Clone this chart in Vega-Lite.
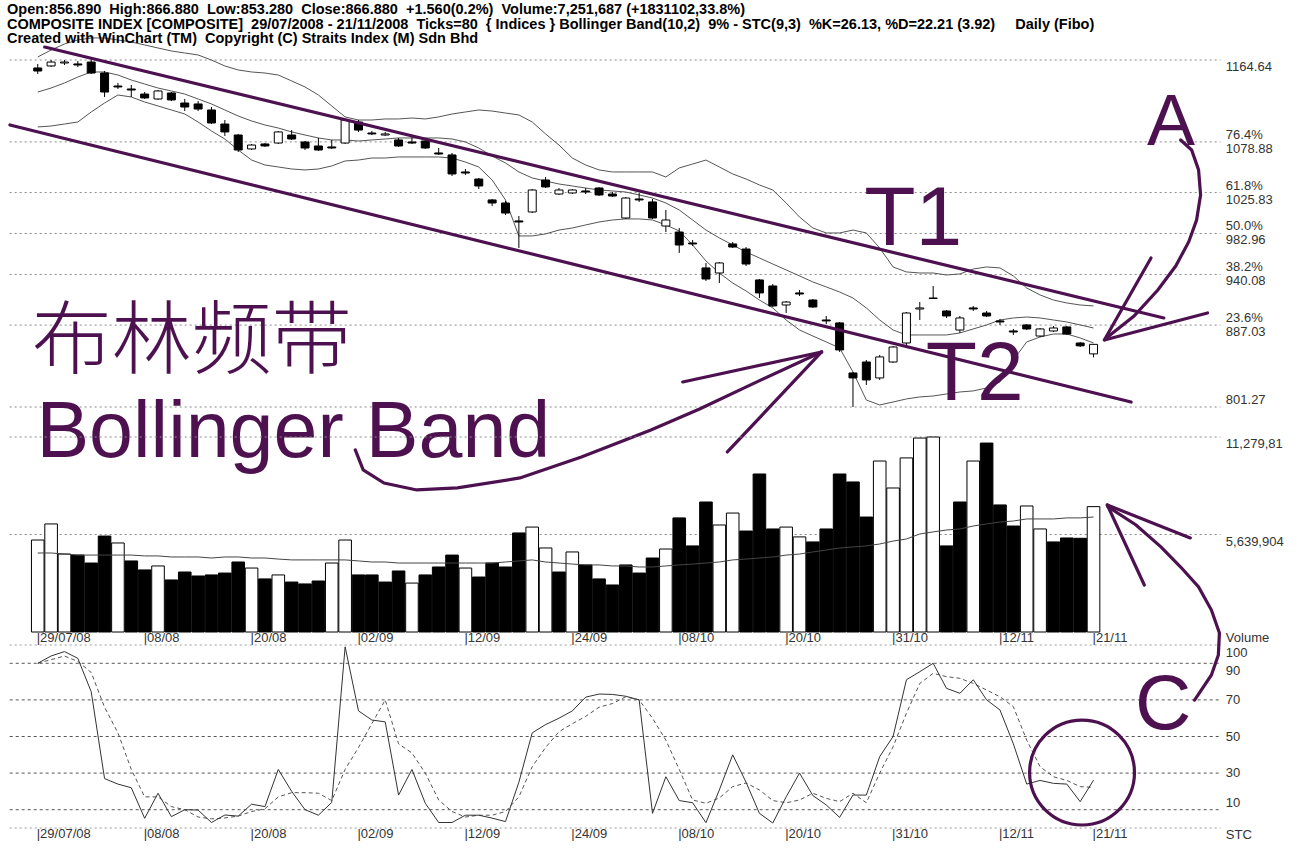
{
"$schema": "https://vega.github.io/schema/vega-lite/v6.json",
"width": 1299, "height": 856, "padding": 0,
"autosize": {"type": "fit", "contains": "padding"},
"background": "white",
"config": {"view": {"stroke": null}},
"datasets": {
"bars": [
{"i":0,"open":1156.3,"high":1160.5,"low":1150.0,"close":1153.1,"vol":5320000,"vup":1,"vma":4570000,"bbu":1167.8,"bbm":1131.1,"bbl":1094.5,"k":90,"d":90},
{"i":1,"open":1158.4,"high":1164.6,"low":1157.3,"close":1162.5,"vol":6250000,"vup":1,"vma":4570000,"bbu":1175.1,"bbm":1135.3,"bbl":1095.5,"k":94,"d":92},
{"i":2,"open":1161.5,"high":1164.6,"low":1159.4,"close":1162.5,"vol":4510000,"vup":1,"vma":4510000,"bbu":1181.4,"bbm":1140.6,"bbl":1097.6,"k":96.4,"d":94},
{"i":3,"open":1160.5,"high":1163.6,"low":1157.3,"close":1159.4,"vol":4450000,"vup":0,"vma":4450000,"bbu":1185.6,"bbm":1146.8,"bbl":1099.7,"k":92.7,"d":91},
{"i":4,"open":1162.5,"high":1164.6,"low":1150.0,"close":1151.0,"vol":3990000,"vup":0,"vma":4450000,"bbu":1187.7,"bbm":1152.1,"bbl":1110.2,"k":74.5,"d":85},
{"i":5,"open":1151.0,"high":1153.1,"low":1125.9,"close":1131.1,"vol":5550000,"vup":0,"vma":4450000,"bbu":1187.7,"bbm":1152.1,"bbl":1119.6,"k":27,"d":66},
{"i":6,"open":1137.4,"high":1140.6,"low":1134.3,"close":1136.4,"vol":5150000,"vup":1,"vma":4450000,"bbu":1185.6,"bbm":1148.9,"bbl":1128.0,"k":24,"d":52},
{"i":7,"open":1134.3,"high":1138.5,"low":1125.9,"close":1133.2,"vol":4110000,"vup":0,"vma":4450000,"bbu":1183.5,"bbm":1143.7,"bbl":1125.9,"k":22,"d":32},
{"i":8,"open":1129.0,"high":1131.1,"low":1123.8,"close":1124.9,"vol":3590000,"vup":0,"vma":4400000,"bbu":1180.4,"bbm":1139.5,"bbl":1120.7,"k":5.3,"d":17},
{"i":9,"open":1123.8,"high":1133.2,"low":1122.8,"close":1132.2,"vol":3820000,"vup":1,"vma":4400000,"bbu":1177.2,"bbm":1135.3,"bbl":1116.5,"k":19,"d":17},
{"i":10,"open":1130.1,"high":1131.1,"low":1121.7,"close":1122.8,"vol":3010000,"vup":0,"vma":4340000,"bbu":1174.1,"bbm":1132.2,"bbl":1112.3,"k":6.2,"d":11.7},
{"i":11,"open":1119.6,"high":1123.8,"low":1111.2,"close":1115.4,"vol":3470000,"vup":0,"vma":4340000,"bbu":1172.0,"bbm":1129.0,"bbl":1108.1,"k":10,"d":10},
{"i":12,"open":1118.6,"high":1121.7,"low":1111.2,"close":1113.3,"vol":3240000,"vup":0,"vma":4340000,"bbu":1169.9,"bbm":1123.8,"bbl":1099.7,"k":9.8,"d":6},
{"i":13,"open":1112.3,"high":1115.4,"low":1097.6,"close":1098.7,"vol":3300000,"vup":0,"vma":4280000,"bbu":1164.6,"bbm":1118.6,"bbl":1090.3,"k":3,"d":5},
{"i":14,"open":1097.6,"high":1101.8,"low":1085.1,"close":1089.3,"vol":3410000,"vup":0,"vma":4340000,"bbu":1158.4,"bbm":1112.3,"bbl":1081.9,"k":7.1,"d":5.5},
{"i":15,"open":1086.1,"high":1087.2,"low":1068.3,"close":1070.4,"vol":4050000,"vup":0,"vma":4340000,"bbu":1154.2,"bbm":1106.0,"bbl":1070.4,"k":6.5,"d":6.5},
{"i":16,"open":1071.5,"high":1076.7,"low":1070.4,"close":1075.6,"vol":3700000,"vup":1,"vma":4280000,"bbu":1152.1,"bbm":1100.8,"bbl":1059.9,"k":13,"d":9},
{"i":17,"open":1076.7,"high":1077.7,"low":1073.6,"close":1074.6,"vol":3070000,"vup":0,"vma":4280000,"bbu":1151.0,"bbm":1096.6,"bbl":1054.7,"k":11.7,"d":10.5},
{"i":18,"open":1077.7,"high":1090.3,"low":1076.7,"close":1089.3,"vol":3300000,"vup":1,"vma":4220000,"bbu":1148.9,"bbm":1093.4,"bbl":1052.6,"k":32,"d":17},
{"i":19,"open":1086.1,"high":1091.3,"low":1080.9,"close":1081.9,"vol":2890000,"vup":0,"vma":4170000,"bbu":1142.7,"bbm":1089.3,"bbl":1050.5,"k":20,"d":19.3},
{"i":20,"open":1078.8,"high":1079.8,"low":1070.4,"close":1072.5,"vol":2780000,"vup":0,"vma":4170000,"bbu":1136.4,"bbm":1086.1,"bbl":1049.5,"k":10,"d":19.3},
{"i":21,"open":1074.6,"high":1083.0,"low":1069.4,"close":1070.4,"vol":2950000,"vup":0,"vma":4170000,"bbu":1128.0,"bbm":1083.0,"bbl":1050.5,"k":7,"d":19},
{"i":22,"open":1073.6,"high":1080.9,"low":1071.5,"close":1072.5,"vol":3990000,"vup":1,"vma":4170000,"bbu":1116.5,"bbm":1080.9,"bbl":1053.7,"k":14,"d":15},
{"i":23,"open":1077.7,"high":1102.9,"low":1076.7,"close":1101.8,"vol":5320000,"vup":1,"vma":4170000,"bbu":1105.0,"bbm":1080.9,"bbl":1058.9,"k":99,"d":32},
{"i":24,"open":1099.7,"high":1101.8,"low":1089.3,"close":1091.3,"vol":3300000,"vup":0,"vma":4110000,"bbu":1101.8,"bbm":1079.8,"bbl":1059.9,"k":64,"d":44},
{"i":25,"open":1088.2,"high":1090.3,"low":1086.1,"close":1087.2,"vol":3300000,"vup":0,"vma":4050000,"bbu":1101.8,"bbm":1080.9,"bbl":1062.0,"k":59,"d":57},
{"i":26,"open":1086.1,"high":1089.3,"low":1085.1,"close":1087.2,"vol":2890000,"vup":0,"vma":4050000,"bbu":1102.9,"bbm":1081.9,"bbl":1062.0,"k":58,"d":70},
{"i":27,"open":1080.9,"high":1083.0,"low":1073.6,"close":1074.6,"vol":3530000,"vup":0,"vma":3990000,"bbu":1102.9,"bbm":1083.0,"bbl":1063.1,"k":18,"d":46},
{"i":28,"open":1078.8,"high":1084.0,"low":1076.7,"close":1077.7,"vol":2830000,"vup":1,"vma":3990000,"bbu":1103.9,"bbm":1083.0,"bbl":1063.1,"k":32,"d":41},
{"i":29,"open":1079.8,"high":1081.9,"low":1071.5,"close":1072.5,"vol":3300000,"vup":0,"vma":3990000,"bbu":1102.9,"bbm":1083.0,"bbl":1063.1,"k":13.5,"d":30},
{"i":30,"open":1067.3,"high":1072.5,"low":1065.2,"close":1066.2,"vol":3760000,"vup":0,"vma":3990000,"bbu":1105.0,"bbm":1083.0,"bbl":1063.1,"k":3,"d":15.3},
{"i":31,"open":1065.2,"high":1067.3,"low":1043.2,"close":1045.3,"vol":4450000,"vup":0,"vma":3990000,"bbu":1108.1,"bbm":1081.9,"bbl":1062.0,"k":3,"d":9},
{"i":32,"open":1047.4,"high":1050.5,"low":1044.2,"close":1046.3,"vol":3700000,"vup":1,"vma":3990000,"bbu":1110.2,"bbm":1078.8,"bbl":1057.8,"k":7,"d":6},
{"i":33,"open":1040.0,"high":1041.1,"low":1029.6,"close":1032.7,"vol":3180000,"vup":0,"vma":3990000,"bbu":1112.3,"bbm":1072.5,"bbl":1052.6,"k":7,"d":7},
{"i":34,"open":1018.1,"high":1019.1,"low":1011.8,"close":1014.9,"vol":3990000,"vup":0,"vma":3990000,"bbu":1111.2,"bbm":1064.1,"bbl":1039.0,"k":5.4,"d":7},
{"i":35,"open":1014.9,"high":1017.0,"low":1002.3,"close":1004.4,"vol":3760000,"vup":0,"vma":4050000,"bbu":1109.1,"bbm":1056.8,"bbl":1018.1,"k":3.5,"d":9},
{"i":36,"open":996.1,"high":1001.3,"low":967.8,"close":995.0,"vol":5730000,"vup":0,"vma":4110000,"bbu":1107.1,"bbm":1047.4,"bbl":980.4,"k":25,"d":17},
{"i":37,"open":1005.5,"high":1029.6,"low":1004.4,"close":1028.5,"vol":6070000,"vup":1,"vma":4170000,"bbu":1099.7,"bbm":1041.1,"bbl":980.4,"k":52,"d":33.5},
{"i":38,"open":1039.0,"high":1042.1,"low":1030.6,"close":1031.7,"vol":4860000,"vup":1,"vma":4050000,"bbu":1087.2,"bbm":1037.9,"bbl":982.5,"k":56.5,"d":44},
{"i":39,"open":1024.3,"high":1030.6,"low":1023.3,"close":1028.5,"vol":3470000,"vup":0,"vma":3990000,"bbu":1075.6,"bbm":1034.8,"bbl":986.6,"k":60,"d":52.6},
{"i":40,"open":1025.4,"high":1029.6,"low":1024.3,"close":1028.5,"vol":4630000,"vup":1,"vma":3930000,"bbu":1062.0,"bbm":1032.7,"bbl":988.7,"k":64,"d":57},
{"i":41,"open":1027.5,"high":1030.6,"low":1024.3,"close":1026.4,"vol":3880000,"vup":0,"vma":3880000,"bbu":1054.7,"bbm":1030.6,"bbl":991.9,"k":71.5,"d":61},
{"i":42,"open":1030.6,"high":1031.7,"low":1022.2,"close":1023.3,"vol":3070000,"vup":0,"vma":3880000,"bbu":1049.5,"bbm":1028.5,"bbl":995.0,"k":73.2,"d":66},
{"i":43,"open":1024.3,"high":1026.4,"low":1021.2,"close":1022.2,"vol":2720000,"vup":0,"vma":3820000,"bbu":1047.4,"bbm":1027.5,"bbl":997.1,"k":73,"d":68},
{"i":44,"open":999.2,"high":1021.2,"low":998.2,"close":1020.1,"vol":3880000,"vup":0,"vma":3820000,"bbu":1047.4,"bbm":1026.4,"bbl":998.2,"k":72,"d":71.7},
{"i":45,"open":1019.1,"high":1025.4,"low":1016.0,"close":1018.1,"vol":3410000,"vup":0,"vma":3760000,"bbu":1047.4,"bbm":1023.3,"bbl":998.2,"k":70,"d":70},
{"i":46,"open":1016.0,"high":1019.1,"low":998.2,"close":999.2,"vol":4280000,"vup":0,"vma":3760000,"bbu":1047.4,"bbm":1020.1,"bbl":997.1,"k":8,"d":60},
{"i":47,"open":990.8,"high":1007.6,"low":984.5,"close":997.1,"vol":4800000,"vup":1,"vma":3820000,"bbu":1042.1,"bbm":1014.9,"bbl":991.9,"k":28,"d":48},
{"i":48,"open":984.5,"high":988.7,"low":962.6,"close":970.9,"vol":6600000,"vup":0,"vma":3880000,"bbu":1051.6,"bbm":1007.6,"bbl":985.6,"k":15,"d":32},
{"i":49,"open":973.0,"high":976.2,"low":969.9,"close":972.0,"vol":4980000,"vup":0,"vma":3930000,"bbu":1055.7,"bbm":997.1,"bbl":970.9,"k":13.8,"d":15.3},
{"i":50,"open":946.9,"high":952.1,"low":933.2,"close":935.3,"vol":7520000,"vup":0,"vma":3990000,"bbu":1059.9,"bbm":986.6,"bbl":954.2,"k":2.9,"d":13.5},
{"i":51,"open":941.6,"high":953.1,"low":931.1,"close":952.1,"vol":6190000,"vup":1,"vma":4050000,"bbu":1052.6,"bbm":978.3,"bbl":941.6,"k":20.8,"d":16.4},
{"i":52,"open":972.0,"high":974.1,"low":967.8,"close":968.8,"vol":6880000,"vup":1,"vma":4170000,"bbu":1045.3,"bbm":970.9,"bbl":931.1,"k":40,"d":22.6},
{"i":53,"open":966.7,"high":968.8,"low":948.9,"close":951.0,"vol":5840000,"vup":0,"vma":4220000,"bbu":1040.0,"bbm":963.6,"bbl":922.8,"k":25,"d":24.6},
{"i":54,"open":934.3,"high":935.3,"low":915.4,"close":920.7,"vol":9140000,"vup":0,"vma":4280000,"bbu":1033.8,"bbm":957.3,"bbl":913.3,"k":8,"d":20.8},
{"i":55,"open":928.0,"high":930.1,"low":906.0,"close":907.1,"vol":5960000,"vup":0,"vma":4340000,"bbu":1028.5,"bbm":951.0,"bbl":905.0,"k":2.7,"d":15},
{"i":56,"open":908.1,"high":912.3,"low":899.7,"close":911.2,"vol":6070000,"vup":1,"vma":4450000,"bbu":1014.9,"bbm":944.8,"bbl":892.4,"k":17,"d":13.8},
{"i":57,"open":920.7,"high":923.8,"low":917.5,"close":919.6,"vol":5500000,"vup":1,"vma":4510000,"bbu":1000.2,"bbm":938.5,"bbl":881.9,"k":30,"d":15.3},
{"i":58,"open":913.3,"high":914.4,"low":905.0,"close":906.0,"vol":5210000,"vup":0,"vma":4630000,"bbu":988.7,"bbm":932.2,"bbl":875.6,"k":17.7,"d":19},
{"i":59,"open":892.4,"high":896.6,"low":888.2,"close":891.4,"vol":5960000,"vup":0,"vma":4740000,"bbu":983.5,"bbm":927.0,"bbl":869.4,"k":12.6,"d":16.2},
{"i":60,"open":889.3,"high":890.3,"low":858.9,"close":861.0,"vol":9140000,"vup":0,"vma":4860000,"bbu":983.5,"bbm":921.7,"bbl":863.1,"k":5.8,"d":14.4},
{"i":61,"open":836.9,"high":838.0,"low":801.3,"close":831.7,"vol":8680000,"vup":0,"vma":4920000,"bbu":986.6,"bbm":915.4,"bbl":838.0,"k":18,"d":19},
{"i":62,"open":848.4,"high":850.5,"low":824.3,"close":829.6,"vol":6650000,"vup":0,"vma":4980000,"bbu":983.5,"bbm":905.0,"bbl":808.6,"k":18,"d":13.8},
{"i":63,"open":831.7,"high":855.8,"low":829.6,"close":853.7,"vol":9890000,"vup":1,"vma":5090000,"bbu":967.8,"bbm":892.4,"bbl":803.4,"k":39,"d":30},
{"i":64,"open":848.4,"high":865.2,"low":847.4,"close":864.1,"vol":8330000,"vup":1,"vma":5260000,"bbu":947.9,"bbm":881.9,"bbl":806.5,"k":50,"d":44.4},
{"i":65,"open":868.3,"high":900.8,"low":866.2,"close":899.7,"vol":10070000,"vup":1,"vma":5380000,"bbu":942.7,"bbm":876.7,"bbl":809.7,"k":81,"d":62.7},
{"i":66,"open":903.9,"high":911.2,"low":892.4,"close":905.0,"vol":11220000,"vup":1,"vma":5670000,"bbu":941.6,"bbm":876.7,"bbl":811.8,"k":85.4,"d":79},
{"i":67,"open":915.4,"high":928.0,"low":914.4,"close":914.9,"vol":11279810,"vup":1,"vma":5790000,"bbu":941.6,"bbm":876.7,"bbl":812.8,"k":90,"d":84.5},
{"i":68,"open":901.8,"high":902.9,"low":894.5,"close":896.6,"vol":4980000,"vup":0,"vma":5900000,"bbu":939.5,"bbm":876.7,"bbl":814.9,"k":76.3,"d":82.7},
{"i":69,"open":881.9,"high":896.6,"low":878.8,"close":894.5,"vol":7520000,"vup":0,"vma":5960000,"bbu":940.6,"bbm":878.8,"bbl":817.0,"k":73.6,"d":81.8},
{"i":70,"open":905.0,"high":907.1,"low":901.8,"close":903.9,"vol":9890000,"vup":1,"vma":6130000,"bbu":945.8,"bbm":883.0,"bbl":818.1,"k":81,"d":79},
{"i":71,"open":899.7,"high":901.8,"low":895.5,"close":896.6,"vol":10930000,"vup":0,"vma":6250000,"bbu":947.9,"bbm":887.2,"bbl":821.2,"k":70,"d":75.4},
{"i":72,"open":891.4,"high":893.4,"low":887.2,"close":890.3,"vol":7350000,"vup":0,"vma":6360000,"bbu":946.9,"bbm":892.4,"bbl":827.5,"k":64.5,"d":71.7},
{"i":73,"open":880.9,"high":883.0,"low":876.7,"close":879.8,"vol":6130000,"vup":0,"vma":6420000,"bbu":938.5,"bbm":894.5,"bbl":850.5,"k":46,"d":66.3},
{"i":74,"open":887.2,"high":888.2,"low":881.9,"close":883.0,"vol":7290000,"vup":1,"vma":6540000,"bbu":925.9,"bbm":895.5,"bbl":869.4,"k":24,"d":48},
{"i":75,"open":875.6,"high":884.0,"low":874.6,"close":883.0,"vol":5960000,"vup":1,"vma":6540000,"bbu":918.6,"bbm":894.5,"bbl":874.6,"k":26,"d":33.5},
{"i":76,"open":880.9,"high":886.1,"low":879.8,"close":884.0,"vol":5210000,"vup":0,"vma":6540000,"bbu":913.3,"bbm":892.4,"bbl":877.7,"k":24.4,"d":28},
{"i":77,"open":885.1,"high":886.1,"low":876.7,"close":877.7,"vol":5440000,"vup":0,"vma":6600000,"bbu":910.2,"bbm":890.3,"bbl":877.7,"k":24,"d":26},
{"i":78,"open":868.3,"high":869.4,"low":864.1,"close":865.32,"vol":5420585,"vup":0,"vma":6600000,"bbu":908.1,"bbm":887.2,"bbl":873.6,"k":14.4,"d":22.6},
{"i":79,"open":856.89,"high":866.88,"low":853.28,"close":866.88,"vol":7251687,"vup":1,"vma":6650000,"bbu":907.1,"bbm":884.0,"bbl":868.3,"k":26.13,"d":22.21}
],
"fib": [
{"p":1164.64,"v":"1164.64","pct":""},
{"p":1078.88,"v":"1078.88","pct":"76.4%"},
{"p":1025.83,"v":"1025.83","pct":"61.8%"},
{"p":982.96,"v":"982.96","pct":"50.0%"},
{"p":940.08,"v":"940.08","pct":"38.2%"},
{"p":887.03,"v":"887.03","pct":"23.6%"},
{"p":801.27,"v":"801.27","pct":""}
],
"vlev": [{"v":11279810,"t":"11,279,81"},{"v":5639904,"t":"5,639,904"}],
"slev": [{"s":100,"t":"100"},{"s":90,"t":"90"},{"s":70,"t":"70"},{"s":50,"t":"50"},{"s":30,"t":"30"},{"s":10,"t":"10"},{"s":0,"t":""}],
"dates": [
{"i":0,"t":"|29/07/08"},{"i":8,"t":"|08/08"},{"i":16,"t":"|20/08"},{"i":24,"t":"|02/09"},{"i":32,"t":"|12/09"},{"i":40,"t":"|24/09"},
{"i":48,"t":"|08/10"},{"i":56,"t":"|20/10"},{"i":64,"t":"|31/10"},{"i":72,"t":"|12/11"},{"i":79,"t":"|21/11"}
],
"pann": [
{"g":"t1","o":0,"i":0.52,"p":1178.2},{"g":"t1","o":1,"i":84.26,"p":894.5},
{"g":"t2","o":0,"i":-2.08,"p":1096.6},{"g":"t2","o":1,"i":81.81,"p":806.5},
{"g":"bbc","o":0,"i":23.76,"p":756.3},{"g":"bbc","o":1,"i":24.35,"p":735.4},{"g":"bbc","o":2,"i":25.91,"p":721.7},
{"g":"bbc","o":3,"i":28.36,"p":714.4},{"g":"bbc","o":4,"i":31.4,"p":716.5},{"g":"bbc","o":5,"i":36.08,"p":727.0},
{"g":"bbc","o":6,"i":40.68,"p":749.0},{"g":"bbc","o":7,"i":45.88,"p":777.2},{"g":"bbc","o":8,"i":49.52,"p":799.2},
{"g":"bbc","o":9,"i":53.97,"p":828.6},{"g":"bbc","o":10,"i":58.65,"p":858.9},
{"g":"bb1","o":0,"i":48.26,"p":827.5},{"g":"bb1","o":1,"i":58.65,"p":858.9},
{"g":"bb2","o":0,"i":51.6,"p":754.2},{"g":"bb2","o":1,"i":58.65,"p":858.9},
{"g":"ac","o":0,"i":85.52,"p":1080.9},{"g":"ac","o":1,"i":86.34,"p":1070.4},{"g":"ac","o":2,"i":86.86,"p":1049.5},
{"g":"ac","o":3,"i":87.01,"p":1023.3},{"g":"ac","o":4,"i":86.71,"p":997.1},{"g":"ac","o":5,"i":86.12,"p":974.1},
{"g":"ac","o":6,"i":85.15,"p":948.9},{"g":"ac","o":7,"i":83.81,"p":923.8},{"g":"ac","o":8,"i":82.03,"p":896.6},
{"g":"ac","o":9,"i":79.96,"p":873.6},
{"g":"a1","o":0,"i":83.3,"p":957.3},{"g":"a1","o":1,"i":79.81,"p":871.5},
{"g":"a2","o":0,"i":87.53,"p":899.7},{"g":"a2","o":1,"i":79.81,"p":871.5}
],
"sann": [
{"g":"cc","o":0,"i":80.1,"s":175.4},{"g":"cc","o":1,"i":82.18,"s":165.6},{"g":"cc","o":2,"i":84.04,"s":153.6},
{"g":"cc","o":3,"i":85.52,"s":142.6},{"g":"cc","o":4,"i":86.86,"s":131.7},{"g":"cc","o":5,"i":87.82,"s":119.1},
{"g":"cc","o":6,"i":88.42,"s":106.6},{"g":"cc","o":7,"i":88.34,"s":94.5},{"g":"cc","o":8,"i":87.82,"s":83.6},
{"g":"cc","o":9,"i":86.56,"s":69.9},
{"g":"c1","o":0,"i":86.24,"s":158.5},{"g":"c1","o":1,"i":80.03,"s":176.5},
{"g":"c2","o":0,"i":82.8,"s":132.8},{"g":"c2","o":1,"i":80.03,"s":176.5}
]
},
"resolve": {"scale": {"y": "independent"}},
"layer": [
{
"layer": [
{"data": {"name": "fib"}, "mark": {"type": "rule", "stroke": "#8a8a8a", "strokeDash": [2, 3], "strokeWidth": 1},
 "encoding": {"x": {"datum": -2.1, "type": "quantitative", "scale": {"domain": [-2.45, 94], "nice": false, "zero": false}, "axis": null}, "x2": {"datum": 88.5},
  "y": {"field": "p", "type": "quantitative", "scale": {"domain": [801.27, 1164.64], "range": [407, 60], "nice": false, "zero": false}, "axis": null}}},
{"data": {"name": "bars"}, "mark": {"type": "line", "stroke": "#555555", "strokeWidth": 1},
 "encoding": {"x": {"field": "i", "type": "quantitative", "scale": {"domain": [-2.45, 94], "nice": false, "zero": false}, "axis": null},
  "y": {"field": "bbu", "type": "quantitative", "scale": {"domain": [801.27, 1164.64], "range": [407, 60], "nice": false, "zero": false}, "axis": null}}},
{"data": {"name": "bars"}, "mark": {"type": "line", "stroke": "#555555", "strokeWidth": 1},
 "encoding": {"x": {"field": "i", "type": "quantitative", "scale": {"domain": [-2.45, 94], "nice": false, "zero": false}, "axis": null},
  "y": {"field": "bbm", "type": "quantitative", "scale": {"domain": [801.27, 1164.64], "range": [407, 60], "nice": false, "zero": false}, "axis": null}}},
{"data": {"name": "bars"}, "mark": {"type": "line", "stroke": "#555555", "strokeWidth": 1},
 "encoding": {"x": {"field": "i", "type": "quantitative", "scale": {"domain": [-2.45, 94], "nice": false, "zero": false}, "axis": null},
  "y": {"field": "bbl", "type": "quantitative", "scale": {"domain": [801.27, 1164.64], "range": [407, 60], "nice": false, "zero": false}, "axis": null}}},
{"data": {"name": "bars"}, "mark": {"type": "rule", "stroke": "#000000", "strokeWidth": 1},
 "encoding": {"x": {"field": "i", "type": "quantitative", "scale": {"domain": [-2.45, 94], "nice": false, "zero": false}, "axis": null},
  "y": {"field": "low", "type": "quantitative", "scale": {"domain": [801.27, 1164.64], "range": [407, 60], "nice": false, "zero": false}, "axis": null}, "y2": {"field": "high"}}},
{"data": {"name": "bars"}, "mark": {"type": "bar", "width": 8, "stroke": "#000000", "strokeWidth": 1},
 "encoding": {"x": {"field": "i", "type": "quantitative", "scale": {"domain": [-2.45, 94], "nice": false, "zero": false}, "axis": null},
  "y": {"field": "open", "type": "quantitative", "scale": {"domain": [801.27, 1164.64], "range": [407, 60], "nice": false, "zero": false}, "axis": null}, "y2": {"field": "close"},
  "fill": {"condition": {"test": "datum.close < datum.open", "value": "#000000"}, "value": "#ffffff"}}},
{"data": {"name": "fib"}, "transform": [{"filter": "datum.p > 802"}], "mark": {"type": "text", "align": "left", "baseline": "top", "dy": 1, "font": "Liberation Sans", "fontSize": 13, "fill": "#333333"},
 "encoding": {"x": {"datum": 88.9, "type": "quantitative", "scale": {"domain": [-2.45, 94], "nice": false, "zero": false}, "axis": null},
  "y": {"field": "p", "type": "quantitative", "scale": {"domain": [801.27, 1164.64], "range": [407, 60], "nice": false, "zero": false}, "axis": null}, "text": {"field": "v"}}},
{"data": {"name": "fib"}, "transform": [{"filter": "datum.p < 802"}], "mark": {"type": "text", "align": "left", "baseline": "bottom", "font": "Liberation Sans", "fontSize": 13, "fill": "#333333"},
 "encoding": {"x": {"datum": 88.9, "type": "quantitative", "scale": {"domain": [-2.45, 94], "nice": false, "zero": false}, "axis": null},
  "y": {"field": "p", "type": "quantitative", "scale": {"domain": [801.27, 1164.64], "range": [407, 60], "nice": false, "zero": false}, "axis": null}, "text": {"field": "v"}}},
{"data": {"name": "fib"}, "transform": [{"filter": "datum.pct != ''"}], "mark": {"type": "text", "align": "left", "baseline": "bottom", "font": "Liberation Sans", "fontSize": 13, "fill": "#333333"},
 "encoding": {"x": {"datum": 88.9, "type": "quantitative", "scale": {"domain": [-2.45, 94], "nice": false, "zero": false}, "axis": null},
  "y": {"field": "p", "type": "quantitative", "scale": {"domain": [801.27, 1164.64], "range": [407, 60], "nice": false, "zero": false}, "axis": null}, "text": {"field": "pct"}}},
{"data": {"name": "pann"}, "mark": {"type": "line", "stroke": "#4d1150", "strokeWidth": 3.2, "strokeCap": "round"},
 "encoding": {"x": {"field": "i", "type": "quantitative", "scale": {"domain": [-2.45, 94], "nice": false, "zero": false}, "axis": null},
  "y": {"field": "p", "type": "quantitative", "scale": {"domain": [801.27, 1164.64], "range": [407, 60], "nice": false, "zero": false}, "axis": null}, "detail": {"field": "g"}, "order": {"field": "o"}}},
{"data": {"values": [{"i": -0.45, "p": 843.2, "t": "布林频带"}]}, "mark": {"type": "text", "align": "left", "baseline": "alphabetic", "font": "Noto Sans CJK SC", "fontWeight": 300, "fontSize": 80, "fill": "#4d1150"},
 "encoding": {"x": {"field": "i", "type": "quantitative", "scale": {"domain": [-2.45, 94], "nice": false, "zero": false}, "axis": null},
  "y": {"field": "p", "type": "quantitative", "scale": {"domain": [801.27, 1164.64], "range": [407, 60], "nice": false, "zero": false}, "axis": null}, "text": {"field": "t"}}},
{"data": {"values": [{"i": -0.1, "p": 748.9, "t": "Bollinger Band"}]}, "mark": {"type": "text", "align": "left", "baseline": "alphabetic", "font": "Liberation Sans", "fontSize": 79, "fill": "#4d1150"},
 "encoding": {"x": {"field": "i", "type": "quantitative", "scale": {"domain": [-2.45, 94], "nice": false, "zero": false}, "axis": null},
  "y": {"field": "p", "type": "quantitative", "scale": {"domain": [801.27, 1164.64], "range": [407, 60], "nice": false, "zero": false}, "axis": null}, "text": {"field": "t"}}},
{"data": {"values": [{"i": 61.84, "p": 970.9, "t": "T1"}, {"i": 66.44, "p": 808.6, "t": "T2"}]}, "mark": {"type": "text", "align": "left", "baseline": "alphabetic", "font": "Liberation Sans", "fontSize": 84, "fill": "#4d1150"},
 "encoding": {"x": {"field": "i", "type": "quantitative", "scale": {"domain": [-2.45, 94], "nice": false, "zero": false}, "axis": null},
  "y": {"field": "p", "type": "quantitative", "scale": {"domain": [801.27, 1164.64], "range": [407, 60], "nice": false, "zero": false}, "axis": null}, "text": {"field": "t"}}},
{"data": {"values": [{"i": 83.0, "p": 1075.6, "t": "A"}]}, "mark": {"type": "text", "align": "left", "baseline": "alphabetic", "font": "Liberation Sans", "fontSize": 72, "fill": "#4d1150"},
 "encoding": {"x": {"field": "i", "type": "quantitative", "scale": {"domain": [-2.45, 94], "nice": false, "zero": false}, "axis": null},
  "y": {"field": "p", "type": "quantitative", "scale": {"domain": [801.27, 1164.64], "range": [407, 60], "nice": false, "zero": false}, "axis": null}, "text": {"field": "t"}}},
{"data": {"values": [{"t": "Open:856.890\u00a0 High:866.880\u00a0 Low:853.280\u00a0 Close:866.880\u00a0 +1.560(0.2%)\u00a0 Volume:7,251,687 (+1831102,33.8%)\nCOMPOSITE INDEX [COMPOSITE]\u00a0 29/07/2008 - 21/11/2008\u00a0 Ticks=80\u00a0 { Indices } Bollinger Band(10,2)\u00a0 9% - STC(9,3)\u00a0 %K=26.13, %D=22.21 (3.92)\u00a0 \u00a0 \u00a0Daily (Fibo)\nCreated with WinChart (TM)\u00a0 Copyright (C) Straits Index (M) Sdn Bhd"}]},
 "mark": {"type": "text", "align": "left", "baseline": "top", "lineBreak": "\n", "lineHeight": 14.5, "font": "Liberation Sans", "fontWeight": "bold", "fontSize": 14.5, "fill": "#000000"},
 "encoding": {"x": {"datum": -2.3, "type": "quantitative", "scale": {"domain": [-2.45, 94], "nice": false, "zero": false}, "axis": null},
  "y": {"datum": 1224.3, "type": "quantitative", "scale": {"domain": [801.27, 1164.64], "range": [407, 60], "nice": false, "zero": false}, "axis": null}, "text": {"field": "t"}}}
]
},
{
"layer": [
{"data": {"name": "vlev"}, "mark": {"type": "rule", "stroke": "#8a8a8a", "strokeDash": [2, 3], "strokeWidth": 1},
 "encoding": {"x": {"datum": -2.1, "type": "quantitative", "scale": {"domain": [-2.45, 94], "nice": false, "zero": false}, "axis": null}, "x2": {"datum": 88.5},
  "y": {"field": "v", "type": "quantitative", "scale": {"domain": [0, 11279810], "range": [632, 437], "nice": false, "zero": false}, "axis": null}}},
{"data": {"name": "bars"}, "mark": {"type": "bar", "width": 12.6, "stroke": "#000000", "strokeWidth": 1},
 "encoding": {"x": {"field": "i", "type": "quantitative", "scale": {"domain": [-2.45, 94], "nice": false, "zero": false}, "axis": null},
  "y": {"field": "vol", "type": "quantitative", "scale": {"domain": [0, 11279810], "range": [632, 437], "nice": false, "zero": false}, "axis": null}, "y2": {"datum": 0},
  "fill": {"condition": {"test": "datum.vup == 0", "value": "#000000"}, "value": "#ffffff"}}},
{"data": {"name": "bars"}, "mark": {"type": "line", "stroke": "#444444", "strokeWidth": 1},
 "encoding": {"x": {"field": "i", "type": "quantitative", "scale": {"domain": [-2.45, 94], "nice": false, "zero": false}, "axis": null},
  "y": {"field": "vma", "type": "quantitative", "scale": {"domain": [0, 11279810], "range": [632, 437], "nice": false, "zero": false}, "axis": null}}},
{"data": {"name": "vlev"}, "mark": {"type": "text", "align": "left", "baseline": "top", "dy": 1, "font": "Liberation Sans", "fontSize": 13, "fill": "#333333"},
 "encoding": {"x": {"datum": 88.9, "type": "quantitative", "scale": {"domain": [-2.45, 94], "nice": false, "zero": false}, "axis": null},
  "y": {"field": "v", "type": "quantitative", "scale": {"domain": [0, 11279810], "range": [632, 437], "nice": false, "zero": false}, "axis": null}, "text": {"field": "t"}}},
{"data": {"values": [{"t": "Volume"}]}, "mark": {"type": "text", "align": "left", "baseline": "top", "font": "Liberation Sans", "fontSize": 13, "fill": "#333333"},
 "encoding": {"x": {"datum": 88.9, "type": "quantitative", "scale": {"domain": [-2.45, 94], "nice": false, "zero": false}, "axis": null},
  "y": {"datum": 0, "type": "quantitative", "scale": {"domain": [0, 11279810], "range": [632, 437], "nice": false, "zero": false}, "axis": null}, "text": {"field": "t"}}},
{"data": {"name": "dates"}, "mark": {"type": "text", "align": "left", "baseline": "top", "dx": -1, "font": "Liberation Sans", "fontSize": 13, "fill": "#333333"},
 "encoding": {"x": {"field": "i", "type": "quantitative", "scale": {"domain": [-2.45, 94], "nice": false, "zero": false}, "axis": null},
  "y": {"datum": 0, "type": "quantitative", "scale": {"domain": [0, 11279810], "range": [632, 437], "nice": false, "zero": false}, "axis": null}, "text": {"field": "t"}}}
]
},
{
"layer": [
{"data": {"name": "slev"}, "transform": [{"filter": "datum.s == 0 || datum.s == 100"}], "mark": {"type": "rule", "stroke": "#9a9a9a", "strokeDash": [2, 3], "strokeWidth": 1},
 "encoding": {"x": {"datum": -2.1, "type": "quantitative", "scale": {"domain": [-2.45, 94], "nice": false, "zero": false}, "axis": null}, "x2": {"datum": 88.5},
  "y": {"field": "s", "type": "quantitative", "scale": {"domain": [0, 100], "range": [828, 645], "nice": false, "zero": false}, "axis": null}}},
{"data": {"name": "slev"}, "transform": [{"filter": "datum.s > 0 && datum.s < 100"}], "mark": {"type": "rule", "stroke": "#555555", "strokeDash": [3, 3], "strokeWidth": 1},
 "encoding": {"x": {"datum": -2.1, "type": "quantitative", "scale": {"domain": [-2.45, 94], "nice": false, "zero": false}, "axis": null}, "x2": {"datum": 88.5},
  "y": {"field": "s", "type": "quantitative", "scale": {"domain": [0, 100], "range": [828, 645], "nice": false, "zero": false}, "axis": null}}},
{"data": {"name": "bars"}, "mark": {"type": "line", "stroke": "#555555", "strokeWidth": 1, "strokeDash": [4, 3]},
 "encoding": {"x": {"field": "i", "type": "quantitative", "scale": {"domain": [-2.45, 94], "nice": false, "zero": false}, "axis": null},
  "y": {"field": "d", "type": "quantitative", "scale": {"domain": [0, 100], "range": [828, 645], "nice": false, "zero": false}, "axis": null}}},
{"data": {"name": "bars"}, "mark": {"type": "line", "stroke": "#333333", "strokeWidth": 1},
 "encoding": {"x": {"field": "i", "type": "quantitative", "scale": {"domain": [-2.45, 94], "nice": false, "zero": false}, "axis": null},
  "y": {"field": "k", "type": "quantitative", "scale": {"domain": [0, 100], "range": [828, 645], "nice": false, "zero": false}, "axis": null}}},
{"data": {"name": "slev"}, "transform": [{"filter": "datum.s >= 90"}], "mark": {"type": "text", "align": "left", "baseline": "top", "dy": 2, "font": "Liberation Sans", "fontSize": 13, "fill": "#333333"},
 "encoding": {"x": {"datum": 88.9, "type": "quantitative", "scale": {"domain": [-2.45, 94], "nice": false, "zero": false}, "axis": null},
  "y": {"field": "s", "type": "quantitative", "scale": {"domain": [0, 100], "range": [828, 645], "nice": false, "zero": false}, "axis": null}, "text": {"field": "t"}}},
{"data": {"name": "slev"}, "transform": [{"filter": "datum.s >= 30 && datum.s <= 70"}], "mark": {"type": "text", "align": "left", "baseline": "middle", "font": "Liberation Sans", "fontSize": 13, "fill": "#333333"},
 "encoding": {"x": {"datum": 88.9, "type": "quantitative", "scale": {"domain": [-2.45, 94], "nice": false, "zero": false}, "axis": null},
  "y": {"field": "s", "type": "quantitative", "scale": {"domain": [0, 100], "range": [828, 645], "nice": false, "zero": false}, "axis": null}, "text": {"field": "t"}}},
{"data": {"name": "slev"}, "transform": [{"filter": "datum.s == 10"}], "mark": {"type": "text", "align": "left", "baseline": "bottom", "font": "Liberation Sans", "fontSize": 13, "fill": "#333333"},
 "encoding": {"x": {"datum": 88.9, "type": "quantitative", "scale": {"domain": [-2.45, 94], "nice": false, "zero": false}, "axis": null},
  "y": {"field": "s", "type": "quantitative", "scale": {"domain": [0, 100], "range": [828, 645], "nice": false, "zero": false}, "axis": null}, "text": {"field": "t"}}},
{"data": {"values": [{"t": "STC"}]}, "mark": {"type": "text", "align": "left", "baseline": "top", "dy": 1, "font": "Liberation Sans", "fontSize": 13, "fill": "#333333"},
 "encoding": {"x": {"datum": 88.9, "type": "quantitative", "scale": {"domain": [-2.45, 94], "nice": false, "zero": false}, "axis": null},
  "y": {"datum": 0, "type": "quantitative", "scale": {"domain": [0, 100], "range": [828, 645], "nice": false, "zero": false}, "axis": null}, "text": {"field": "t"}}},
{"data": {"name": "dates"}, "mark": {"type": "text", "align": "left", "baseline": "top", "dx": -1, "font": "Liberation Sans", "fontSize": 13, "fill": "#333333"},
 "encoding": {"x": {"field": "i", "type": "quantitative", "scale": {"domain": [-2.45, 94], "nice": false, "zero": false}, "axis": null},
  "y": {"datum": 0, "type": "quantitative", "scale": {"domain": [0, 100], "range": [828, 645], "nice": false, "zero": false}, "axis": null}, "text": {"field": "t"}}},
{"data": {"name": "sann"}, "mark": {"type": "line", "stroke": "#4d1150", "strokeWidth": 3.2, "strokeCap": "round"},
 "encoding": {"x": {"field": "i", "type": "quantitative", "scale": {"domain": [-2.45, 94], "nice": false, "zero": false}, "axis": null},
  "y": {"field": "s", "type": "quantitative", "scale": {"domain": [0, 100], "range": [828, 645], "nice": false, "zero": false}, "axis": null}, "detail": {"field": "g"}, "order": {"field": "o"}}},
{"data": {"values": [{"i": 78.14, "s": 30.3}]}, "mark": {"type": "point", "shape": "circle", "size": 11000, "filled": false, "stroke": "#4d1150", "strokeWidth": 3.2, "opacity": 1},
 "encoding": {"x": {"field": "i", "type": "quantitative", "scale": {"domain": [-2.45, 94], "nice": false, "zero": false}, "axis": null},
  "y": {"field": "s", "type": "quantitative", "scale": {"domain": [0, 100], "range": [828, 645], "nice": false, "zero": false}, "axis": null}}},
{"data": {"values": [{"i": 82.1, "s": 54.1, "t": "C"}]}, "mark": {"type": "text", "align": "left", "baseline": "alphabetic", "font": "Liberation Sans", "fontSize": 78, "fill": "#4d1150"},
 "encoding": {"x": {"field": "i", "type": "quantitative", "scale": {"domain": [-2.45, 94], "nice": false, "zero": false}, "axis": null},
  "y": {"field": "s", "type": "quantitative", "scale": {"domain": [0, 100], "range": [828, 645], "nice": false, "zero": false}, "axis": null}, "text": {"field": "t"}}}
]
}
]
}
